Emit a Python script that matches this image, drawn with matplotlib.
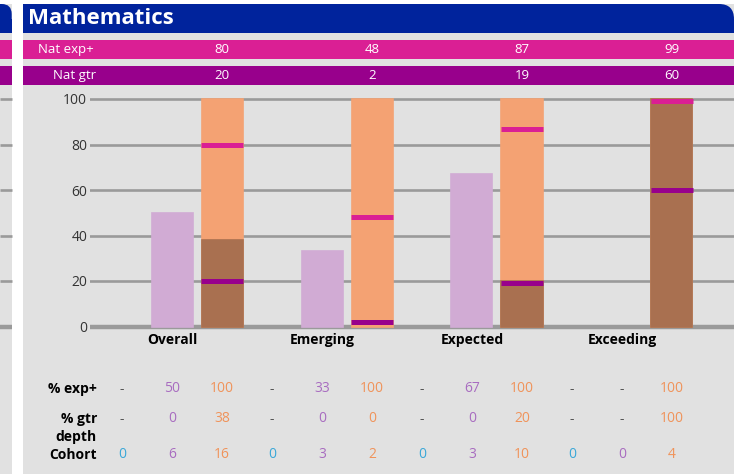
import matplotlib
matplotlib.use('Agg')
import matplotlib.pyplot as plt
from matplotlib.patches import Rectangle, FancyBboxPatch
import matplotlib.transforms as mtransforms

# ---------------- data ----------------
title = 'Mathematics'
categories = ['Overall', 'Emerging', 'Expected', 'Exceeding']
nat_labels = ['Nat exp+', 'Nat gtr']
nat_exp = [80, 48, 87, 99]
nat_gtr = [20, 2, 19, 60]
# three series per category: blue, lilac, orange
blue_exp = [None, None, None, None]
blue_gtr = [None, None, None, None]
lilac_exp = [50, 33, 67, None]
lilac_gtr = [0, 0, 0, None]
orange_exp = [100, 100, 100, 100]
orange_gtr = [38, 0, 20, 100]
blue_cohort = [0, 0, 0, 0]
lilac_cohort = [6, 3, 3, 0]
orange_cohort = [16, 2, 10, 4]
y_ticks = [0, 20, 40, 60, 80, 100]
row_labels = ['% exp+', '% gtr\ndepth', 'Cohort']

# ---------------- style ----------------
plt.rcParams['font.family'] = ['Open Sans', 'DejaVu Sans']
HDR = '#00239c'
PANEL = '#e1e1e1'
PINK = '#da1f94'
PURPLE = '#98008c'
GRID = '#9a9a9a'
LIGHT = ['#8fd0ea', '#d1abd4', '#f4a273']
DARK = ['#2f8fb8', '#8e5a96', '#a97050']
TXT = ['#3aa8d8', '#a86cc0', '#f0935a']
DASH = '#555555'

W, H = 734, 474
fig = plt.figure(figsize=(W / 100, H / 100), dpi=100)
fig.patch.set_facecolor('white')

# background axes in pixel coordinates
bg = fig.add_axes([0, 0, 1, 1], zorder=0)
bg.set_xlim(0, W)
bg.set_ylim(H, 0)
bg.axis('off')

# panels
bg.add_patch(Rectangle((23, 4), W - 23, H - 4, color=PANEL, lw=0))
bg.add_patch(Rectangle((0, 4), 11.7, H - 4, color=PANEL, lw=0))
# headers (only top-right corner rounded)
bg.add_patch(FancyBboxPatch((23, 4), W - 23, 29, boxstyle='round,pad=0,rounding_size=15', color=HDR, lw=0))
bg.add_patch(Rectangle((23, 4), 500, 29, color=HDR, lw=0))
bg.add_patch(Rectangle((23, 19), W - 23, 14, color=HDR, lw=0))
bg.add_patch(FancyBboxPatch((-30, 4), 41.7, 29, boxstyle='round,pad=0,rounding_size=10', color=HDR, lw=0))
bg.add_patch(Rectangle((0, 19), 11.7, 14, color=HDR, lw=0))
# national rows
for y0, c in [(40, PINK), (66, PURPLE)]:
    bg.add_patch(Rectangle((23, y0), W - 23, 18.5, color=c, lw=0))
    bg.add_patch(Rectangle((0, y0), 11.7, 18.5, color=c, lw=0))

bg.text(28, 18, title, color='white', fontsize=16, fontweight='bold', va='center', ha='left')

# ---------------- main chart ----------------
px_per_unit = 2.275
y0_px = 326.5
ax_l, ax_r, ax_t, ax_b = 90, W, 90, 332
ax = fig.add_axes([ax_l / W, 1 - ax_b / H, (ax_r - ax_l) / W, (ax_b - ax_t) / H], zorder=1)
ax.set_facecolor('none')
col0_px, col_step = 122, 50
ax.set_xlim((ax_l - col0_px) / col_step, (ax_r - col0_px) / col_step)
ax.set_ylim(-(ax_b - y0_px) / px_per_unit, (y0_px - ax_t) / px_per_unit)
for s in ax.spines.values():
    s.set_visible(False)
ax.set_xticks([])
ax.set_yticks(y_ticks)
ax.set_yticklabels([str(v) for v in y_ticks], fontsize=10, color='#333333')
ax.tick_params(axis='y', length=0, pad=2)
for v in y_ticks:
    ax.axhline(v, color=GRID, lw=3.2 if v == 0 else 1.9, zorder=1)

# neighbour panel gridlines
nb = mtransforms.blended_transform_factory(bg.transData, ax.transData)
for v in y_ticks:
    bg.plot([0, 11.7], [v, v], color=GRID, lw=3.2 if v == 0 else 1.9, transform=nb, solid_capstyle='butt')

bw = 0.82
series_exp = [blue_exp, lilac_exp, orange_exp]
series_gtr = [blue_gtr, lilac_gtr, orange_gtr]
for g in range(len(categories)):
    for s in range(3):
        x = 3 * g + s
        e = series_exp[s][g]
        gt = series_gtr[s][g]
        if e is not None:
            ax.bar(x, e, width=bw, color=LIGHT[s], edgecolor=LIGHT[s], lw=1.2, zorder=2)
        if gt is not None and gt > 0:
            ax.bar(x, gt, width=bw, color=DARK[s], edgecolor=DARK[s], lw=1.2, zorder=3)
    xo = 3 * g + 2
    ax.hlines(nat_exp[g], xo - bw / 2 - 0.01, xo + bw / 2 + 0.01, color=PINK, lw=3.6, zorder=4)
    ax.hlines(nat_gtr[g], xo - bw / 2 - 0.01, xo + bw / 2 + 0.01, color=PURPLE, lw=3.6, zorder=4)

# ---------------- texts ----------------
bt = mtransforms.blended_transform_factory(ax.transData, bg.transData)

bg.text(66, 49, nat_labels[0], color='white', fontsize=9.5, ha='center', va='center')
bg.text(75, 75, nat_labels[1], color='white', fontsize=9.5, ha='center', va='center')
for g in range(len(categories)):
    xo = 3 * g + 2
    bg.text(xo, 49, str(nat_exp[g]), color='white', fontsize=9.5, ha='center', va='center', transform=bt)
    bg.text(xo, 75, str(nat_gtr[g]), color='white', fontsize=9.5, ha='center', va='center', transform=bt)
    bg.text(3 * g + 1, 340, categories[g], color='black', fontsize=10, fontweight='bold',
            ha='center', va='center', transform=bt)

row_y = [389, 428, 455]
for lab, y in zip(row_labels, row_y):
    bg.text(97, y, lab, color='black', fontsize=10, fontweight='bold', ha='right', va='center',
            linespacing=1.3)

cohorts = [blue_cohort, lilac_cohort, orange_cohort]
value_rows = [series_exp, series_gtr]
for g in range(len(categories)):
    for s in range(3):
        x = 3 * g + s
        for r, y in zip(range(2), [389, 419]):
            v = value_rows[r][s][g]
            if v is None:
                bg.text(x, y, '-', color=DASH, fontsize=10, ha='center', va='center', transform=bt)
            else:
                bg.text(x, y, str(v), color=TXT[s], fontsize=10, ha='center', va='center', transform=bt)
        bg.text(x, 455, str(cohorts[s][g]), color=TXT[s], fontsize=10, ha='center', va='center', transform=bt)

fig.savefig('out.png', dpi=100, facecolor='white')
